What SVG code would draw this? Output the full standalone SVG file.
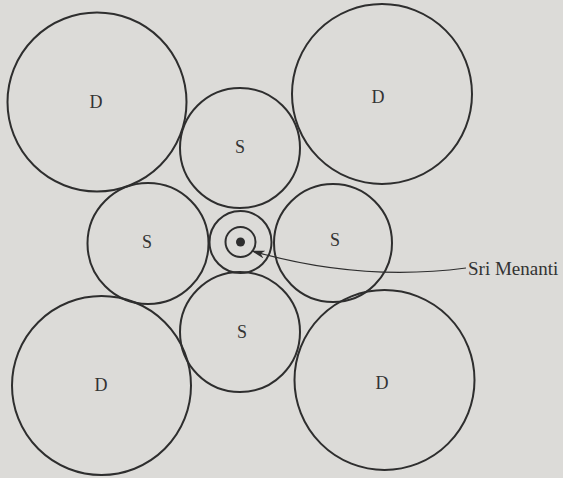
<svg xmlns="http://www.w3.org/2000/svg" width="563" height="478" viewBox="0 0 563 478">
<style>
.c{fill:none;stroke:#2e2e2e;stroke-width:2}
.t{font-family:"Liberation Serif","Times New Roman",serif;font-size:18px;fill:#333;text-anchor:middle}
.lbl{font-family:"Liberation Serif","Times New Roman",serif;font-size:19px;fill:#333}
</style>
<defs>
<marker id="ah" markerWidth="14" markerHeight="8" refX="13" refY="4" orient="auto" markerUnits="userSpaceOnUse">
<path d="M0,0 L14,4 L0,8 L4,4 Z" fill="#2e2e2e"/>
</marker>
</defs>
<rect width="563" height="478" fill="#dcdbd8"/>
<g id="d-tl"><circle class="c" cx="97" cy="102" r="89.5"/><text class="t" x="96" y="108">D</text></g>
<g id="d-tr"><circle class="c" cx="382" cy="94" r="90"/><text class="t" x="378" y="103">D</text></g>
<g id="d-bl"><circle class="c" cx="101.5" cy="385.5" r="89.5"/><text class="t" x="101" y="391">D</text></g>
<g id="d-br"><circle class="c" cx="384.5" cy="380" r="90"/><text class="t" x="382" y="389">D</text></g>
<g id="s-top"><circle class="c" cx="240" cy="148" r="60"/><text class="t" x="240" y="153">S</text></g>
<g id="s-left"><circle class="c" cx="148" cy="243.5" r="60.5"/><text class="t" x="147" y="248">S</text></g>
<g id="s-right"><circle class="c" cx="333" cy="243" r="59"/><text class="t" x="335" y="246">S</text></g>
<g id="s-bottom"><circle class="c" cx="240" cy="332" r="60"/><text class="t" x="242" y="338">S</text></g>
<g id="sri-menanti">
<circle class="c" cx="240.5" cy="242" r="31"/>
<circle class="c" cx="240.5" cy="242" r="15"/>
<circle cx="240.5" cy="242" r="4.5" fill="#2e2e2e"/>
<text class="lbl" x="468" y="275">Sri Menanti</text>
</g>
<g id="connectors">
<path d="M466,268 Q360,282 252,251" fill="none" stroke="#2e2e2e" stroke-width="1.2" marker-end="url(#ah)"/>
</g>
</svg>
